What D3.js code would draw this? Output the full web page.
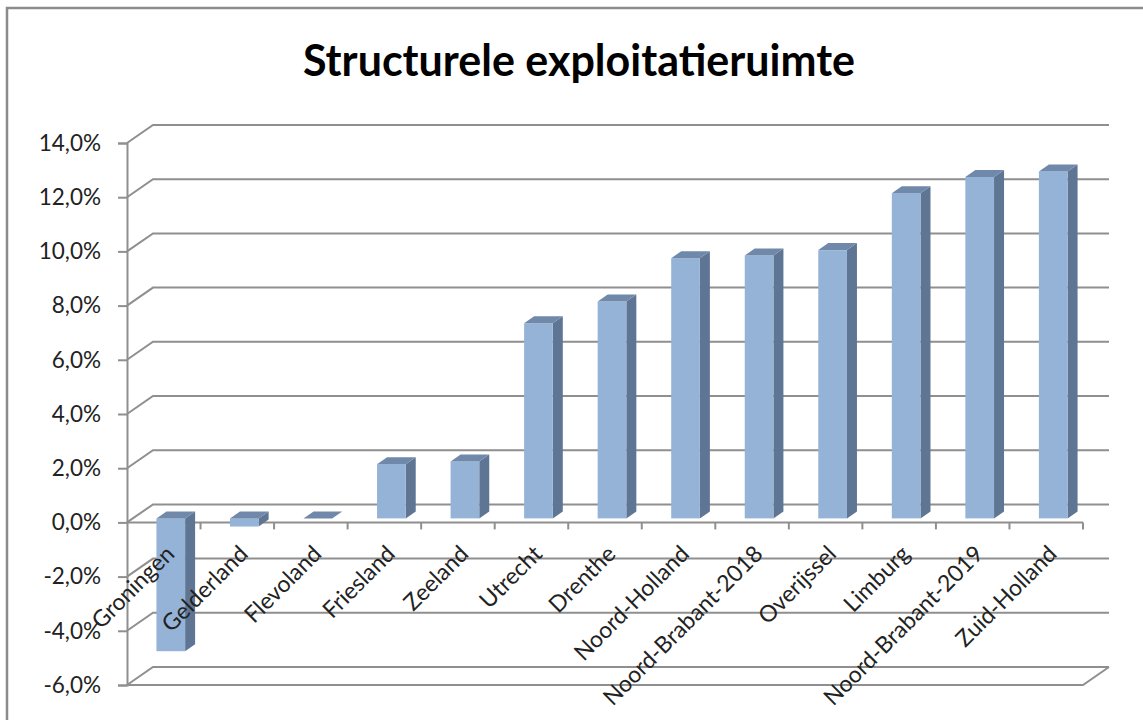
<!DOCTYPE html>
<html lang="nl">
<head>
    <meta charset="UTF-8">
    <title>Structurele exploitatieruimte</title>
    <script src="https://d3js.org/d3.v7.min.js"></script>
    <style>
        body {
            margin: 0;
            padding: 0;
            background: #fff;
            font-family: Lato, "Open Sans", sans-serif;
        }
        #chart {
            width: 1143px;
            height: 720px;
            overflow: hidden;
        }
    </style>
</head>
<body>
    <div id="chart"></div>

    <script>
        const categories = ['Groningen', 'Gelderland', 'Flevoland', 'Friesland', 'Zeeland', 'Utrecht',
            'Drenthe', 'Noord-Holland', 'Noord-Brabant-2018', 'Overijssel', 'Limburg',
            'Noord-Brabant-2019', 'Zuid-Holland'];
        const values = [-4.9, -0.3, 0.0, 2.0, 2.1, 7.2, 8.0, 9.6, 9.7, 9.9, 12.0, 12.6, 12.8];
        const yTicks = [-6, -4, -2, 0, 2, 4, 6, 8, 10, 12, 14];
        const title = 'Structurele exploitatieruimte';

        const width = 1143, height = 720;
        const plotLeft = 127, plotRight = 1083, plotTop = 143, plotBottom = 685;

        // depth of the back wall and of the columns (fake 3D)
        const DX = 26, DY = -18;
        const FX = 7, FY = -4;
        const BX = 10, BY = -7;

        const gridColor = '#8f8f8f';

        const svg = d3.select('#chart')
            .append('svg')
            .attr('width', width)
            .attr('height', height);

        // outer frame
        svg.append('rect')
            .attr('x', 7).attr('y', 8)
            .attr('width', 1160).attr('height', 740)
            .attr('fill', '#fff')
            .attr('stroke', '#8c8c8c')
            .attr('stroke-width', 2.5);

        svg.append('text')
            .attr('x', 579)
            .attr('y', 76)
            .attr('text-anchor', 'middle')
            .attr('font-size', 43)
            .attr('font-weight', 'bold')
            .attr('fill', '#000')
            .text(title);

        const x = d3.scaleBand()
            .domain(categories)
            .range([plotLeft, plotRight]);

        const y = d3.scaleLinear()
            .domain([d3.min(yTicks), d3.max(yTicks)])
            .range([plotBottom, plotTop]);

        // back wall gridlines + side diagonals
        const grid = svg.append('g')
            .attr('stroke', gridColor)
            .attr('stroke-width', 2)
            .attr('fill', 'none');

        grid.selectAll('path.grid')
            .data(yTicks)
            .enter().append('path')
            .attr('class', 'grid')
            .attr('d', t => `M${plotLeft},${y(t)} L${plotLeft + DX},${y(t) + DY} L${plotRight + DX},${y(t) + DY}`);

        // floor front edge and right edge
        const yMin = d3.min(yTicks);
        grid.append('path')
            .attr('d', `M${plotLeft},${y(yMin)} L${plotRight},${y(yMin)} L${plotRight + DX},${y(yMin) + DY}`);

        // vertical axis
        const yAxis = d3.axisLeft(y)
            .tickValues(yTicks)
            .tickSize(9)
            .tickPadding(17)
            .tickFormat(d => d.toFixed(1).replace('.', ',') + '%');

        const yAxisG = svg.append('g')
            .attr('transform', `translate(${plotLeft},0)`)
            .call(yAxis);
        yAxisG.select('.domain')
            .attr('stroke', gridColor)
            .attr('stroke-width', 2);
        yAxisG.selectAll('.tick line')
            .attr('stroke', gridColor)
            .attr('stroke-width', 2);
        yAxisG.selectAll('.tick text')
            .attr('font-family', 'Lato, "Open Sans", sans-serif')
            .attr('font-size', 22.5)
            .attr('fill', '#222');

        // category axis at 0 with ticks on band edges
        const axisG = svg.append('g')
            .attr('stroke', gridColor)
            .attr('stroke-width', 2);
        axisG.append('line')
            .attr('x1', plotLeft).attr('x2', plotRight)
            .attr('y1', y(0)).attr('y2', y(0));
        const edges = categories.map(c => x(c)).concat([plotRight]).slice(1);
        axisG.selectAll('line.tk')
            .data(edges)
            .enter().append('line')
            .attr('class', 'tk')
            .attr('x1', d => d).attr('x2', d => d)
            .attr('y1', y(0)).attr('y2', y(0) + 7);

        // columns
        const bw = x.bandwidth() * 0.39;
        const bars = svg.append('g')
            .selectAll('g')
            .data(categories.map((c, i) => ({ cat: c, v: values[i] })))
            .enter().append('g');

        const geo = d => {
            const x0 = x(d.cat) + (x.bandwidth() - bw) / 2 + FX;
            const x1 = x0 + bw;
            const yt = y(Math.max(d.v, 0)) + FY;
            const yb = y(Math.min(d.v, 0)) + FY;
            return { x0, x1, yt, yb };
        };

        bars.append('path')
            .attr('fill', '#5f7594')
            .attr('d', d => {
                const g = geo(d);
                return `M${g.x1},${g.yt} L${g.x1 + BX},${g.yt + BY} L${g.x1 + BX},${g.yb + BY} L${g.x1},${g.yb} Z`;
            });

        bars.append('rect')
            .attr('fill', '#95b3d7')
            .attr('x', d => geo(d).x0)
            .attr('y', d => geo(d).yt)
            .attr('width', bw)
            .attr('height', d => geo(d).yb - geo(d).yt);

        bars.append('path')
            .attr('fill', '#7089aa')
            .attr('d', d => {
                const g = geo(d);
                return `M${g.x0},${g.yt} L${g.x0 + BX},${g.yt + BY} L${g.x1 + BX},${g.yt + BY} L${g.x1},${g.yt} Z`;
            });

        // rotated category labels
        svg.append('g')
            .selectAll('text')
            .data(categories)
            .enter().append('text')
            .attr('transform', d => `translate(${x(d) + x.bandwidth() / 2 + 12},${y(0) + 33}) rotate(-45)`)
            .attr('text-anchor', 'end')
            .attr('font-size', 23)
            .attr('fill', '#222')
            .text(d => d);
    </script>
</body>
</html>
